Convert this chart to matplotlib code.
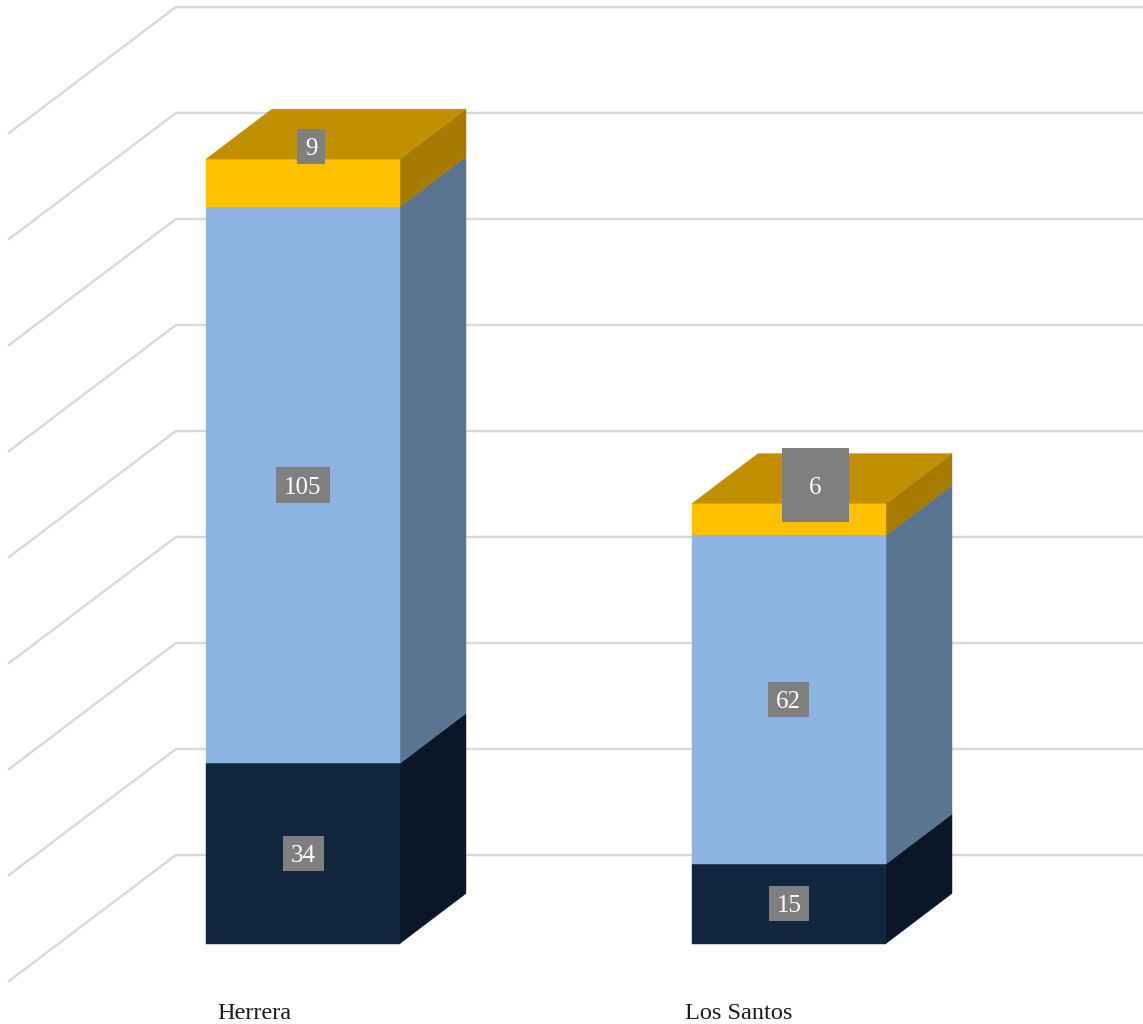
import matplotlib
matplotlib.use("Agg")
import matplotlib.pyplot as plt
from matplotlib.patches import Polygon, Rectangle

# datos
categories = ["Herrera", "Los Santos"]
bottom_values = [34, 15]
middle_values = [105, 62]
top_values = [9, 6]
grid_values = [0, 20, 40, 60, 80, 100, 120, 140, 160]

# estilo
PX_PER_UNIT = 5.3
BASE_Y = 943.5
DEPTH_X = 66
DEPTH_Y = 50 / PX_PER_UNIT
BAR_WIDTH = 194
BAR_LEFT = [206, 692]
WALL_LEFT = 9
WALL_BACK = 176
WALL_RISE = 126 / PX_PER_UNIT
FLOOR_FRONT = -37.5 / PX_PER_UNIT

COLORS = [
    ("#12263F", "#0B1728", "#12263F"),
    ("#8DB4E2", "#5A7492", "#8DB4E2"),
    ("#FFC000", "#A67C00", "#C09000"),
]
FONT = "Liberation Serif"

# cajas de etiquetas en pixeles: izquierda, arriba, derecha, abajo
label_boxes = [
    [(283, 836, 324, 871), (276, 467, 330, 503), (297, 129, 325, 164)],
    [(769, 886, 809, 921), (768, 682, 809, 717), (782, 448, 849, 522)],
]
label_x = [254, 739]
label_px_y = 1011
TEXT_SHIFT = 2.5


def to_value(py):
    return (BASE_Y - py) / PX_PER_UNIT


def draw_segment(ax, left, low, high, colors):
    front, side, top = colors
    right = left + BAR_WIDTH
    ax.add_patch(Polygon(
        [(right, low), (right + DEPTH_X, low + DEPTH_Y),
         (right + DEPTH_X, high + DEPTH_Y), (right, high)],
        facecolor=side, edgecolor=side, lw=0.3, zorder=3
    ))
    ax.add_patch(Rectangle(
        (left, low), BAR_WIDTH, high - low,
        facecolor=front, edgecolor=front, lw=0.3, zorder=3
    ))
    return top


fig = plt.figure(figsize=(11.43, 10.24), dpi=100)
ax = fig.add_axes([0, 0, 1, 1])
ax.set_xlim(0, 1143)
ax.set_ylim(to_value(1024), to_value(0))
ax.axis("off")

for v in grid_values:
    back_y = v + FLOOR_FRONT + WALL_RISE
    ax.plot(
        [WALL_LEFT, WALL_BACK, 1143],
        [v + FLOOR_FRONT, back_y, back_y],
        color="#D9D9D9", lw=1.7, zorder=1, solid_joinstyle="round"
    )

for i in range(len(categories)):
    left = BAR_LEFT[i]
    values = [bottom_values[i], middle_values[i], top_values[i]]
    low = 0
    top_color = None
    for value, colors in zip(values, COLORS):
        top_color = draw_segment(ax, left, low, low + value, colors)
        low += value
    ax.add_patch(Polygon(
        [(left, low), (left + BAR_WIDTH, low),
         (left + BAR_WIDTH + DEPTH_X, low + DEPTH_Y),
         (left + DEPTH_X, low + DEPTH_Y)],
        facecolor=top_color, edgecolor=top_color, lw=0.3, zorder=4
    ))

    for value, box in zip(values, label_boxes[i]):
        x0, y0, x1, y1 = box
        ax.add_patch(Rectangle(
            (x0, to_value(y1)), x1 - x0, to_value(y0) - to_value(y1),
            facecolor="#7F7F7F", edgecolor="none", zorder=5
        ))
        ax.text(
            (x0 + x1) / 2, to_value((y0 + y1) / 2 + TEXT_SHIFT), str(value),
            color="white", fontsize=18, family=FONT,
            ha="center", va="center", zorder=6
        )

    ax.text(
        label_x[i], to_value(label_px_y + TEXT_SHIFT), categories[i],
        color="#1A1A1A", fontsize=17.5, family=FONT,
        ha="center", va="center"
    )

fig.savefig("out.png", dpi=100)
